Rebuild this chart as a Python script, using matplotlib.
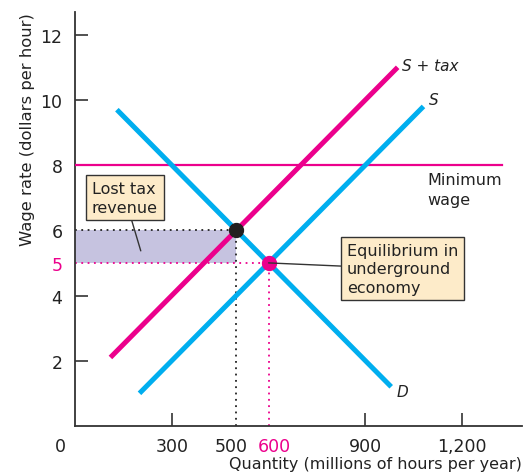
import matplotlib.pyplot as plt
from matplotlib.transforms import ScaledTranslation

# --- data ---
demand_q = [130, 980]
demand_w = [9.7, 1.2]
supply_q = [200, 1080]
supply_w = [1.0, 9.8]
supply_tax_q = [110, 1000]
supply_tax_w = [2.1, 11.0]
min_wage = 8
min_wage_q = [0, 1322]

tax_q, tax_w = 500, 6      # with-tax point (black)
under_q, under_w = 600, 5  # underground equilibrium (pink)

y_major = [2, 4, 8, 10, 12]
x_major = [300, 900, 1200]
x_major_labels = ["300", "900", "1,200"]

CYAN = "#00AEEF"
PINK = "#EC008C"
BOXFILL = "#FDEBC9"
SHADE = "#C6C3E0"
GREY = "#333333"
TXT = "#222222"


def main():
    fig = plt.figure(figsize=(5.24, 4.77), dpi=100)
    ax = fig.add_axes([0.143, 0.105, 0.853, 0.868])
    ax.set_xlim(0, 1385)
    ax.set_ylim(0, 12.7)

    for side in ["top", "right"]:
        ax.spines[side].set_visible(False)
    for side in ["left", "bottom"]:
        ax.spines[side].set_color(GREY)
        ax.spines[side].set_linewidth(1.3)

    # shaded lost tax revenue
    ax.fill_between([0, tax_q], under_w, tax_w, color=SHADE, lw=0, zorder=1)

    # dotted guide lines
    dots = (0, (1, 2.5))
    ax.plot([0, tax_q], [tax_w, tax_w], ls=dots, color=TXT, lw=1.3, zorder=2)
    ax.plot([tax_q, tax_q], [0, tax_w], ls=dots, color=TXT, lw=1.3, zorder=2)
    ax.plot([0, under_q], [under_w, under_w], ls=dots, color=PINK, lw=1.3, zorder=2)
    ax.plot([under_q, under_q], [0, under_w], ls=dots, color=PINK, lw=1.3, zorder=2)

    # minimum wage
    ax.plot(min_wage_q, [min_wage, min_wage], color=PINK, lw=1.6, zorder=3)

    # curves
    ax.plot(demand_q, demand_w, color=CYAN, lw=3.6, solid_capstyle="butt", zorder=4)
    ax.plot(supply_q, supply_w, color=CYAN, lw=3.6, solid_capstyle="butt", zorder=4)
    ax.plot(supply_tax_q, supply_tax_w, color=PINK, lw=3.6, solid_capstyle="butt", zorder=4)

    # points
    ax.plot(tax_q, tax_w, "o", color="#231F20", ms=10, zorder=6)
    ax.plot(under_q, under_w, "o", color=PINK, ms=10, zorder=6)

    # curve labels
    ax.text(1015, 11.05, "S + tax", fontsize=11, style="italic", va="center", color=TXT)
    ax.text(1098, 10.0, "S", fontsize=11, style="italic", va="center", color=TXT)
    ax.text(996, 1.07, "D", fontsize=11, style="italic", va="center", color=TXT)
    ax.text(1092, 7.25, "Minimum\nwage", fontsize=11.5, va="center", ha="left",
            color=TXT, linespacing=1.35)

    # annotations
    box = dict(boxstyle="square,pad=0.35", fc=BOXFILL, ec=GREY, lw=1)
    line = dict(arrowstyle="-", color=GREY, lw=1, shrinkA=0, shrinkB=0)
    ax.annotate("Lost tax\nrevenue", xy=(204, 5.37), xytext=(155, 7.0),
                fontsize=11.5, ha="center", va="center", multialignment="left",
                color=TXT, linespacing=1.3, bbox=box, arrowprops=line, zorder=7)
    ax.annotate("Equilibrium in\nunderground\neconomy", xy=(under_q, under_w),
                xytext=(1015, 4.82),
                fontsize=11.5, ha="center", va="center", multialignment="left",
                color=TXT, linespacing=1.3, bbox=box, arrowprops=line, zorder=7)

    # ticks
    ax.set_yticks(y_major)
    ax.set_yticks([under_w, tax_w], minor=True)
    ax.set_yticklabels([str(v) for v in y_major])
    ax.set_yticklabels([str(under_w), str(tax_w)], minor=True)
    ax.set_xticks(x_major)
    ax.set_xticks([tax_q, under_q], minor=True)
    ax.set_xticklabels(x_major_labels)
    ax.set_xticklabels([str(tax_q), str(under_q)], minor=True)

    ax.tick_params(which="major", direction="in", length=9.5, width=1.2, color=GREY,
                   labelsize=12.5, labelcolor=TXT)
    ax.tick_params(which="minor", length=0, labelsize=12.5, labelcolor=TXT)
    ax.tick_params(axis="y", which="both", pad=9)
    ax.tick_params(axis="x", which="both", pad=8)
    ax.get_yticklabels(minor=True)[0].set_color(PINK)
    xminor = ax.get_xticklabels(minor=True)
    xminor[1].set_color(PINK)
    xminor[0].set_transform(xminor[0].get_transform() + ScaledTranslation(-4 / 72, 0, fig.dpi_scale_trans))
    xminor[1].set_transform(xminor[1].get_transform() + ScaledTranslation(4 / 72, 0, fig.dpi_scale_trans))

    ax.text(-45, -0.35, "0", fontsize=12.5, ha="center", va="top", color=TXT,
            clip_on=False)

    ax.set_ylabel("Wage rate (dollars per hour)", fontsize=11.8, loc="top", color=TXT)
    ax.set_xlabel("Quantity (millions of hours per year)", fontsize=11.5, loc="right",
                  color=TXT, labelpad=1)

    fig.savefig("out.png", dpi=100)


if __name__ == "__main__":
    main()
